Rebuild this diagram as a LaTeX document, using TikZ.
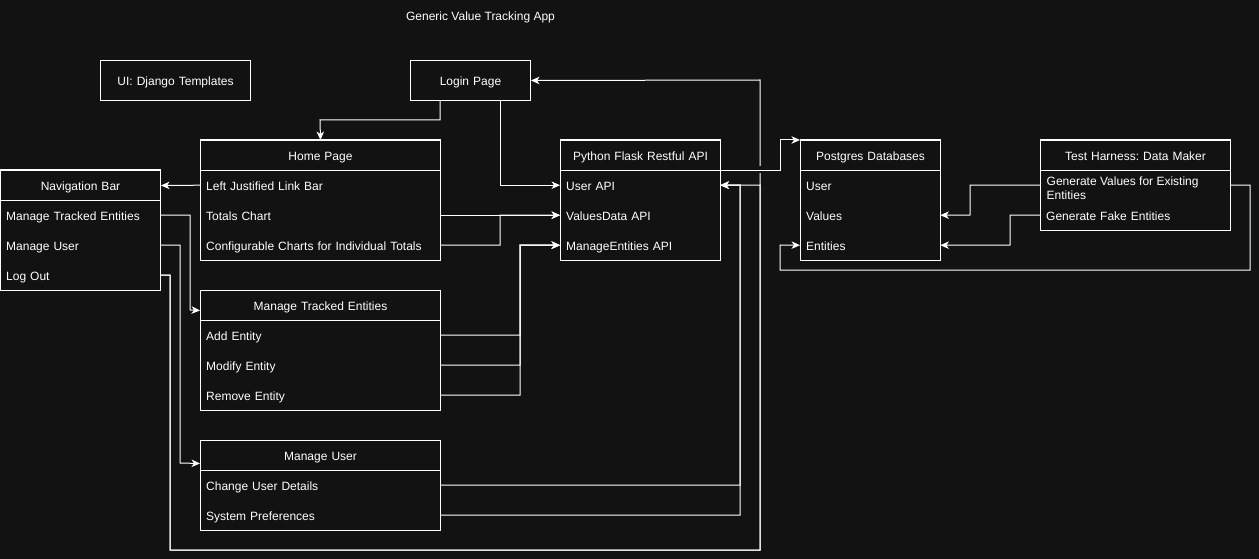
\documentclass[tikz,border=0pt]{standalone}
\usepackage{fontspec}
\setmainfont{Liberation Sans}
\usetikzlibrary{arrows.meta}
\definecolor{bg}{RGB}{18,18,18}
\begin{document}
\frenchspacing
\begin{tikzpicture}[x=1pt,y=-1pt,
  every node/.style={font=\fontsize{12}{14}\selectfont\frenchspacing, text=white},
  hdr/.style={draw=white, line width=1pt, minimum height=30pt, text width=#1, inner xsep=6pt, inner ysep=0pt, align=center, anchor=north west, text height=11pt, text depth=1pt},
  item/.style={minimum height=30pt, text width=#1, inner xsep=6pt, inner ysep=0pt, align=left, anchor=north west, text height=11pt, text depth=1pt},
  frame/.style={draw=white, line width=1pt},
  conn/.style={draw=white, line width=1pt, -{Stealth[length=8.5pt,width=7.5pt,inset=2.5pt]}}
]
\useasboundingbox (0,0) rectangle (1259,559);
\fill[bg] (0,0) rectangle (1259,559);

% title
\node[anchor=base] (title) at (480.5,20.5) {Generic Value Tracking App};

% single boxes
\node[hdr=138pt, minimum height=40pt] (ui) at (100,60) {UI: Django Templates};
\node[hdr=108pt, minimum height=40pt] (login) at (410,60) {Login Page};

% Home Page
\node[hdr=228pt] (hp) at (200,140) {Home Page};
\node[item=228pt] (hp1) at (200,170) {Left Justified Link Bar};
\node[item=228pt] (hp2) at (200,200) {Totals Chart};
\node[item=228pt] (hp3) at (200,230) {Configurable Charts for Individual Totals};
\draw[frame] (hp.north west) rectangle (hp3.south east);

% Navigation Bar
\node[hdr=148pt] (nav) at (0,170) {Navigation Bar};
\node[item=148pt] (nav1) at (0,200) {Manage Tracked Entities};
\node[item=148pt] (nav2) at (0,230) {Manage User};
\node[item=148pt] (nav3) at (0,260) {Log Out};
\draw[frame] (nav.north west) rectangle (nav3.south east);

% Flask API
\node[hdr=148pt] (fl) at (560,140) {Python Flask Restful API};
\node[item=148pt] (fl1) at (560,170) {User API};
\node[item=148pt] (fl2) at (560,200) {ValuesData API};
\node[item=148pt] (fl3) at (560,230) {ManageEntities API};
\draw[frame] (fl.north west) rectangle (fl3.south east);

% Postgres
\node[hdr=128pt] (pg) at (800,140) {Postgres Databases};
\node[item=128pt] (pg1) at (800,170) {User};
\node[item=128pt] (pg2) at (800,200) {Values};
\node[item=128pt] (pg3) at (800,230) {Entities};
\draw[frame] (pg.north west) rectangle (pg3.south east);

% Test Harness
\node[hdr=178pt] (th) at (1040,140) {Test Harness: Data Maker};
\node[item=178pt] (th1) at (1040,170) {};
\node[anchor=north west, inner sep=0pt, align=left] (th1t) at (1046.5,177) {Generate Values for Existing\\Entities};
\node[item=178pt] (th2) at (1040,200) {Generate Fake Entities};
\draw[frame] (th.north west) rectangle (th2.south east);

% Manage Tracked Entities
\node[hdr=228pt] (mte) at (200,290) {Manage Tracked Entities};
\node[item=228pt] (mte1) at (200,320) {Add Entity};
\node[item=228pt] (mte2) at (200,350) {Modify Entity};
\node[item=228pt] (mte3) at (200,380) {Remove Entity};
\draw[frame] (mte.north west) rectangle (mte3.south east);

% Manage User
\node[hdr=228pt] (mu) at (200,440) {Manage User};
\node[item=228pt] (mu1) at (200,470) {Change User Details};
\node[item=228pt] (mu2) at (200,500) {System Preferences};
\draw[frame] (mu.north west) rectangle (mu2.south east);

% connectors
\draw[conn] ([xshift=30pt]login.south west) |- (320,120) -- (hp.north);
\draw[conn] ([xshift=90pt]login.south west) |- (fl1.west);
\draw[conn] (hp2.east) -- (fl2.west);
\draw[conn] (hp3.east) -| (500,215) -- (fl2.west);
\draw[conn] (hp1.west) -- (nav.east);
\draw[conn] (nav1.east) -| (190,310) -- ([yshift=-5pt]mte.west);
\draw[conn] (nav2.east) -| (180,463) -- ([yshift=-8pt]mu.west);
\draw[conn] (nav3.east) -| (170,550) -| (760,80) -- (login.east);
\draw[conn] (nav3.east) -| (170,550) -| (760,185) -- (fl1.east);
\fill[bg] (757.5,166.5) rectangle (762.5,173.5);
\draw[conn] (fl.south east) -| (780,140) -- (pg.north west);
\draw[conn] (mte1.east) -| (520,245) -- (fl3.west);
\draw[conn] (mte2.east) -| (520,245) -- (fl3.west);
\draw[conn] (mte3.east) -| (520,245) -- (fl3.west);
\draw[conn] (mu1.east) -| (740,185) -- (fl1.east);
\draw[conn] (mu2.east) -| (740,185) -- (fl1.east);
\draw[conn] (th1.west) -| (970,215) -- (pg2.east);
\draw[conn] (th2.west) -| (1010,245) -- (pg3.east);
\draw[conn] (th1.east) -| (1250,270) -| (780,245) -- (pg3.west);
\end{tikzpicture}
\end{document}
